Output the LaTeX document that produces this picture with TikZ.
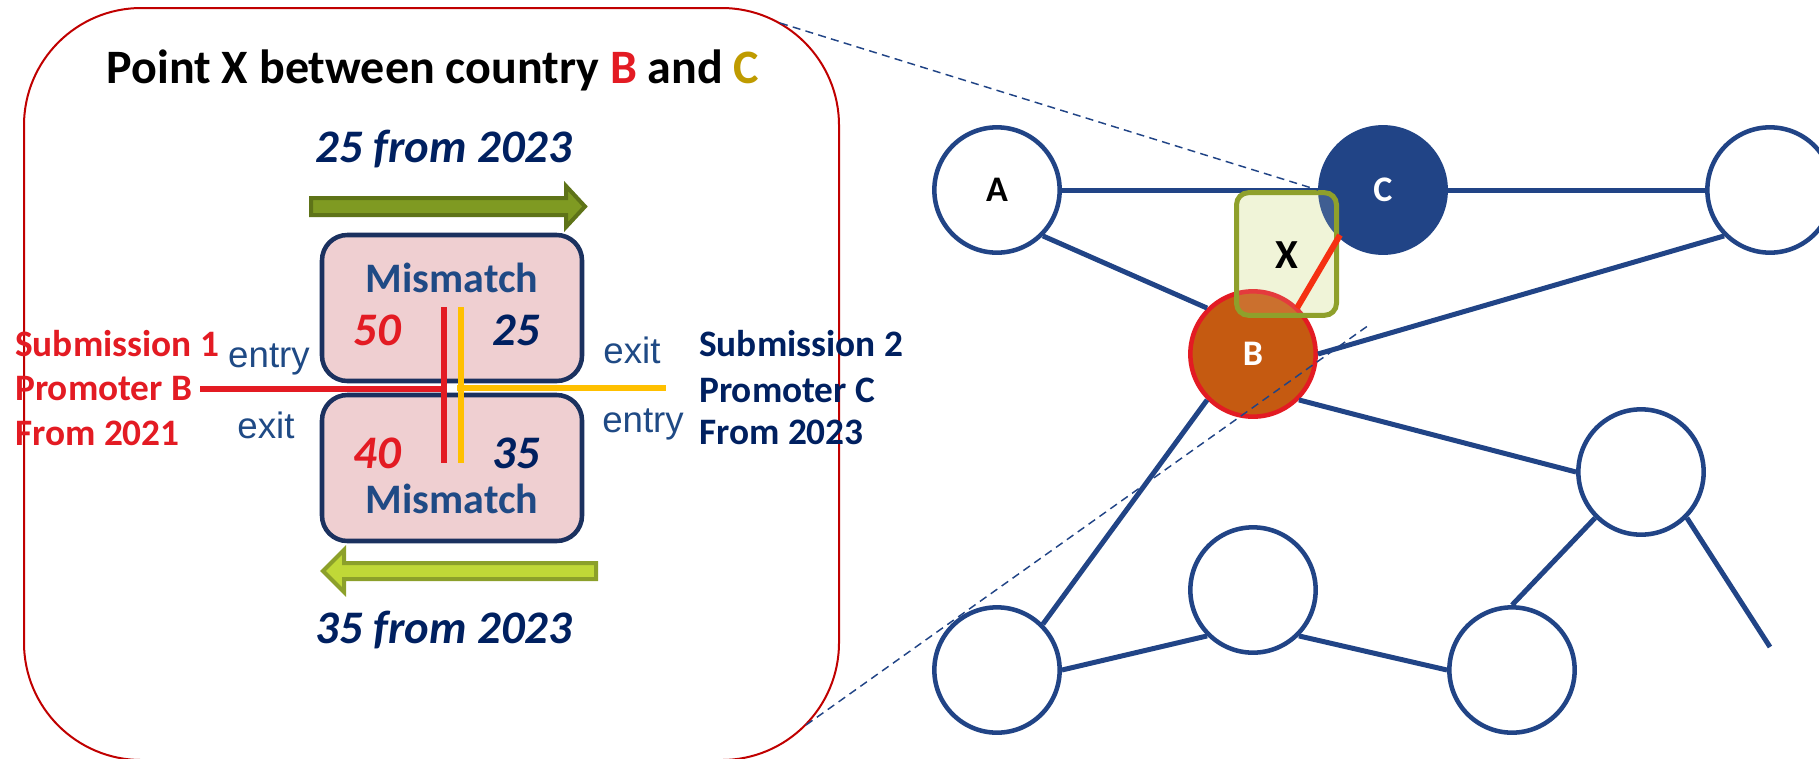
\documentclass[tikz,border=0pt]{standalone}
\usepackage{fontspec}
\setmainfont{Carlito}
\newfontfamily\arialfont{Liberation Sans}
\usepackage{tikz}
\usetikzlibrary{%
  positioning,%
  shapes.misc%
}

\definecolor{navytext}{HTML}{002060}
\definecolor{mismatchblue}{HTML}{1F4A85}
\definecolor{promred}{HTML}{E31B23}
\definecolor{promgold}{HTML}{BF9B00}
\definecolor{framered}{HTML}{C00000}
\definecolor{nodeblue}{HTML}{214486}
\definecolor{boxpink}{HTML}{EFCFD1}
\definecolor{boxline}{HTML}{1B315F}
\definecolor{lineyellow}{HTML}{FFC000}
\definecolor{darkolive}{HTML}{7F9A22}
\definecolor{darkoliveline}{HTML}{5E7318}
\definecolor{lightolive}{HTML}{C0D837}
\definecolor{lightoliveline}{HTML}{8CA02A}
\definecolor{xfill}{HTML}{F0F4D8}
\definecolor{xline}{HTML}{8FA02B}
\definecolor{bfill}{HTML}{C55A11}
\definecolor{xred}{HTML}{F53012}

\tikzset{
  txt/.style = {inner sep=0pt, anchor=base},
  frame/.style = {draw=framered, line width=1.5pt, rounded corners=88pt},
  mismatchbox/.style = {rectangle, rounded corners=19pt, draw=boxline, fill=boxpink,
    line width=3.4pt, minimum width=195pt, minimum height=109.5pt, inner sep=0pt},
  flowright/.style = {draw=darkoliveline, fill=darkolive, line width=3pt},
  flowleft/.style = {draw=lightoliveline, fill=lightolive, line width=3pt},
  submission/.style = {line width=5pt, line cap=butt},
  Vertex/.style = {circle, draw=nodeblue, line width=3.4pt, fill=white, minimum size=94pt,
    inner sep=0pt, font=\fontsize{27}{32}\selectfont\bfseries},
  EdgeStyle/.style = {draw=nodeblue, line width=3.75pt},
  zoomline/.style = {draw=nodeblue, line width=1.1pt, dash pattern=on 6pt off 4pt},
}

\begin{document}
\begin{tikzpicture}[x=0.75pt, y=-0.75pt]
  \useasboundingbox (0,0) rectangle (1819,758);

  % zoomed view of point X
  \draw[frame] (24,8) rectangle (839,760);
  \node[txt, font=\fontsize{36}{43}\selectfont\bfseries] (title) at (433,83)
    {Point X between country \textcolor{promred}{B} and \textcolor{promgold}{C}};

  % flows in both directions
  \draw[flowright] (311,198) -- (566,198) -- (566,186) -- (585,206.5) -- (566,227) -- (566,215) -- (311,215) -- cycle;
  \node[txt, navytext, font=\fontsize{35}{42}\selectfont\bfseries\itshape] (flowtop) at (444,162) {25 from 2023};
  \draw[flowleft] (323,571) -- (344,550) -- (344,563) -- (596,563) -- (596,579) -- (344,579) -- (344,592) -- cycle;
  \node[txt, navytext, font=\fontsize{35}{42}\selectfont\bfseries\itshape] (flowbottom) at (444,643) {35 from 2023};

  % mismatch boxes
  \node[mismatchbox] (upper) at (452,308) {};
  \node[mismatchbox] (lower) at (452,468) {};
  \node[txt, mismatchblue, font=\fontsize{31.5}{38}\selectfont\bfseries] (mmup) at (452,292) {Mismatch};
  \node[txt, mismatchblue, font=\fontsize{31.5}{38}\selectfont\bfseries] (mmlow) at (452,513) {Mismatch};
  \node[txt, promred, font=\fontsize{35}{42}\selectfont\bfseries\itshape] (n50) at (377,345) {50};
  \node[txt, navytext, font=\fontsize{35}{42}\selectfont\bfseries\itshape] (n25) at (516,345) {25};
  \node[txt, promred, font=\fontsize{35}{42}\selectfont\bfseries\itshape] (n40) at (377,468) {40};
  \node[txt, navytext, font=\fontsize{35}{42}\selectfont\bfseries\itshape] (n35) at (516,468) {35};

  % entry / exit
  \node[txt, mismatchblue, font=\arialfont\fontsize{27.5}{33}\selectfont] (entryB) at (269,367) {entry};
  \node[txt, mismatchblue, font=\arialfont\fontsize{27.5}{33}\selectfont] (exitB) at (266,438) {exit};
  \node[txt, mismatchblue, font=\arialfont\fontsize{27.5}{33}\selectfont] (exitC) at (632,363) {exit};
  \node[txt, mismatchblue, font=\arialfont\fontsize{27.5}{33}\selectfont] (entryC) at (643,432) {entry};

  % submissions
  \node[txt, anchor=base west, promred, font=\fontsize{28}{34}\selectfont\bfseries] (subB1) at (15,356) {Submission 1};
  \node[txt, anchor=base west, promred, font=\fontsize{28}{34}\selectfont\bfseries] (subB2) at (15,400) {Promoter B};
  \node[txt, anchor=base west, promred, font=\fontsize{28}{34}\selectfont\bfseries] (subB3) at (15,445) {From 2021};
  \node[txt, anchor=base west, navytext, font=\fontsize{28}{34}\selectfont\bfseries] (subC1) at (699,356) {Submission 2};
  \node[txt, anchor=base west, navytext, font=\fontsize{28}{34}\selectfont\bfseries] (subC2) at (699,402) {Promoter C};
  \node[txt, anchor=base west, navytext, font=\fontsize{28}{34}\selectfont\bfseries] (subC3) at (699,444) {From 2023};

  \coordinate (redW) at (200,389);
  \coordinate (redE) at (447,389);
  \coordinate (yelW) at (457,388);
  \coordinate (yelE) at (666,388);
  \coordinate (redN) at (444,307);
  \coordinate (redS) at (444,463);
  \coordinate (yelN) at (461,307);
  \coordinate (yelS) at (461,463);
  \draw[submission, promred] (redW) -- (redE);
  \draw[submission, lineyellow] (yelW) -- (yelE);
  \draw[submission, promred] (redN) -- (redS);
  \draw[submission, lineyellow] (yelN) -- (yelS);

  % network of countries
  \node[draw=none, fill=xfill, rounded corners=9pt, minimum width=75pt, minimum height=92pt] (Xback) at (1286.5,254) {};

  \node[Vertex] (A) at (997,190) {A};
  \node[Vertex, fill=nodeblue, text=white] (C) at (1383,190) {C};
  \node[Vertex] (D) at (1770,190) {};
  \node[Vertex, fill=bfill, draw=promred, text=white] (B) at (1253,354) {B};
  \node[Vertex] (E) at (1641,472) {};
  \node[Vertex] (F) at (997,670) {};
  \node[Vertex] (G) at (1253,590) {};
  \node[Vertex] (H) at (1512,670) {};
  \coordinate (Eend) at (1770,647);

  \draw[EdgeStyle] (A.east) -- (C.west);
  \draw[EdgeStyle] (C.east) -- (D.west);
  \draw[EdgeStyle] (A.south east) -- (B.north west);
  \draw[EdgeStyle] (B.east) -- (D.south west);
  \draw[EdgeStyle] (B.south east) -- (E.west);
  \draw[EdgeStyle] (B.south west) -- (F.north east);
  \draw[EdgeStyle] (F.east) -- (G.south west);
  \draw[EdgeStyle] (G.south east) -- (H.west);
  \draw[EdgeStyle] (E.south west) -- (H.north);
  \draw[EdgeStyle] (E.south east) -- (Eend);

  % point X on the border
  \node[draw=xline, fill=xfill, fill opacity=0.15, line width=3.75pt, rounded corners=9pt,
    minimum width=75pt, minimum height=92pt] (X) at (1286.5,254) {};
  \coordinate (xredN) at (1340,235);
  \coordinate (xredS) at (1297,308);
  \draw[xred, line width=4.5pt] (xredN) -- (xredS);
  \node[txt, font=\fontsize{31}{37}\selectfont\bfseries] (Xlabel) at (1287,268) {X};

  % zoom lines
  \coordinate (zoomTop) at (780,23);
  \coordinate (zoomBottom) at (806,725);
  \coordinate (zoomB) at (1369,325);
  \draw[zoomline] (zoomTop) -- (C.west);
  \draw[zoomline] (zoomBottom) -- (zoomB);
\end{tikzpicture}
\end{document}
